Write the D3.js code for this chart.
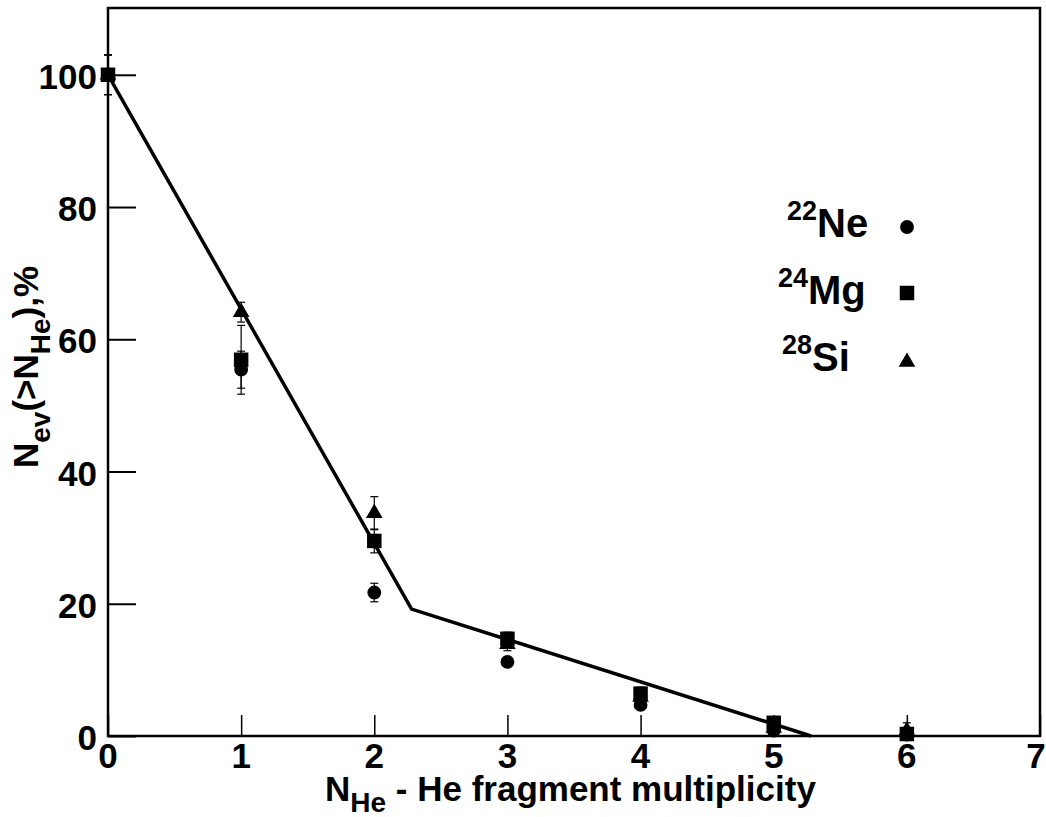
<!DOCTYPE html>
<html>
<head>
<meta charset="utf-8">
<script src="https://cdn.jsdelivr.net/npm/d3@7"></script>
<style>
  html, body { margin: 0; padding: 0; background: #fff; }
  svg { display: block; font-family: "Liberation Sans", Arial, sans-serif; font-weight: bold; }
</style>
</head>
<body>
<svg id="chart" width="1046" height="817"></svg>
<script>
// He fragment multiplicity
const multiplicity = [0, 1, 2, 3, 4, 5, 6];

// Fraction of events with more than N_He fragments, %
const ne22 = [100, 55.4, 21.7, 11.2, 4.7, 0.8, 0.2];
const ne22Err = [3, 2.8, 1.4, 0.6, 0.5, 0.3, 0.2];
const mg24 = [100, 56.9, 29.5, 14.7, 6.4, 2.0, 0.3];
const mg24Err = [3, 5.2, 1.8, 1.0, 1.0, 0.6, 0.3];
const si28 = [100, 64.1, 33.7, 13.9, 5.9, 1.2, 0.8];
const si28Err = [3, 1.5, 2.5, 1.0, 0.8, 0.5, 1.2];

// Two-segment approximation
const fitX = [0, 2.28, 5.28];
const fitY = [100, 19.2, 0];

const xTicks = [0, 1, 2, 3, 4, 5, 6, 7];
const yTicks = [0, 20, 40, 60, 80, 100];

const svg = d3.select("#chart");
const plotLeft = 108, plotRight = 1040, plotTop = 8, plotBottom = 736;

const x = d3.scaleLinear().domain([0, 7]).range([plotLeft, plotRight]);
const y = d3.scaleLinear().domain([0, 110.1]).range([plotBottom, plotTop]);

// Frame
svg.append("rect")
  .attr("x", plotLeft).attr("y", plotTop)
  .attr("width", plotRight - plotLeft).attr("height", plotBottom - plotTop)
  .attr("fill", "none").attr("stroke", "#000").attr("stroke-width", 2.5);

// Axes with inward ticks
const xAxis = d3.axisTop(x).tickValues(xTicks).tickSize(21).tickFormat("");
svg.append("g").attr("transform", `translate(0,${plotBottom})`).call(xAxis)
  .call(g => g.select(".domain").remove())
  .call(g => g.selectAll("line").attr("stroke-width", 1.5));
const yAxis = d3.axisRight(y).tickValues(yTicks).tickSize(28).tickFormat("");
svg.append("g").attr("transform", `translate(${plotLeft},0)`).call(yAxis)
  .call(g => g.select(".domain").remove())
  .call(g => g.selectAll("line").attr("stroke-width", 2));

// Tick labels
svg.append("g").selectAll("text").data(xTicks).join("text")
  .attr("x", d => Math.min(x(d), plotRight - 4)).attr("y", 768)
  .attr("text-anchor", "middle").attr("font-size", 35)
  .text(d => d);
svg.append("g").selectAll("text").data(yTicks).join("text")
  .attr("x", 97).attr("y", d => y(d) + 14)
  .attr("text-anchor", "end").attr("font-size", 35)
  .text(d => d);

// Axis titles
const xt = svg.append("text").attr("x", 325).attr("y", 801).attr("font-size", 35);
xt.append("tspan").text("N");
xt.append("tspan").attr("font-size", 28).attr("dy", 11).text("He");
xt.append("tspan").attr("dy", -11).text(" - He fragment multiplicity");

const yt = svg.append("text")
  .attr("transform", "translate(38,468) rotate(-90)")
  .attr("font-size", 35);
yt.append("tspan").text("N");
yt.append("tspan").attr("font-size", 28).attr("dy", 12).text("ev");
yt.append("tspan").attr("dy", -12).text("(>N");
yt.append("tspan").attr("font-size", 28).attr("dy", 12).text("He");
yt.append("tspan").attr("dy", -12).text("),%");

// Fit line
svg.append("path")
  .datum(d3.zip(fitX, fitY))
  .attr("d", d3.line().x(d => x(d[0])).y(d => y(d[1])))
  .attr("fill", "none").attr("stroke", "#000").attr("stroke-width", 3.5);

// Series
const series = [
  { name: "Ne", mass: "22", values: ne22, err: ne22Err, symbol: d3.symbolCircle, size: 150 },
  { name: "Mg", mass: "24", values: mg24, err: mg24Err, symbol: d3.symbolSquare, size: 210 },
  { name: "Si", mass: "28", values: si28, err: si28Err, symbol: d3.symbolTriangle, size: 120 }
];

series.forEach(s => {
  const pts = multiplicity.map((m, i) => ({ m, v: s.values[i], e: s.err[i] }));
  const g = svg.append("g");
  g.selectAll("line.bar").data(pts).join("line")
    .attr("x1", d => x(d.m)).attr("x2", d => x(d.m))
    .attr("y1", d => y(d.v + d.e)).attr("y2", d => y(Math.max(0, d.v - d.e)))
    .attr("stroke", "#000").attr("stroke-width", 1.2);
  g.selectAll("line.capHi").data(pts).join("line")
    .attr("x1", d => x(d.m) - 4).attr("x2", d => x(d.m) + 4)
    .attr("y1", d => y(d.v + d.e)).attr("y2", d => y(d.v + d.e))
    .attr("stroke", "#000").attr("stroke-width", 1.2);
  g.selectAll("line.capLo").data(pts.filter(d => d.v - d.e > 0)).join("line")
    .attr("x1", d => x(d.m) - 4).attr("x2", d => x(d.m) + 4)
    .attr("y1", d => y(d.v - d.e)).attr("y2", d => y(d.v - d.e))
    .attr("stroke", "#000").attr("stroke-width", 1.2);
  g.selectAll("path").data(pts).join("path")
    .attr("transform", d => `translate(${x(d.m)},${y(d.v)})`)
    .attr("d", d3.symbol().type(s.symbol).size(s.size))
    .attr("fill", "#000");
});

// Legend
const legend = [
  { s: series[0], tx: 787, by: 237, my: 227 },
  { s: series[1], tx: 778, by: 304, my: 293 },
  { s: series[2], tx: 782, by: 371, my: 362 }
];
legend.forEach(l => {
  const t = svg.append("text").attr("x", l.tx).attr("y", l.by).attr("font-size", 40);
  t.append("tspan").attr("font-size", 27).attr("dy", -17).text(l.s.mass);
  t.append("tspan").attr("dy", 17).text(l.s.name);
  svg.append("path")
    .attr("transform", `translate(907,${l.my})`)
    .attr("d", d3.symbol().type(l.s.symbol).size(l.s.size))
    .attr("fill", "#000");
});
</script>
</body>
</html>
